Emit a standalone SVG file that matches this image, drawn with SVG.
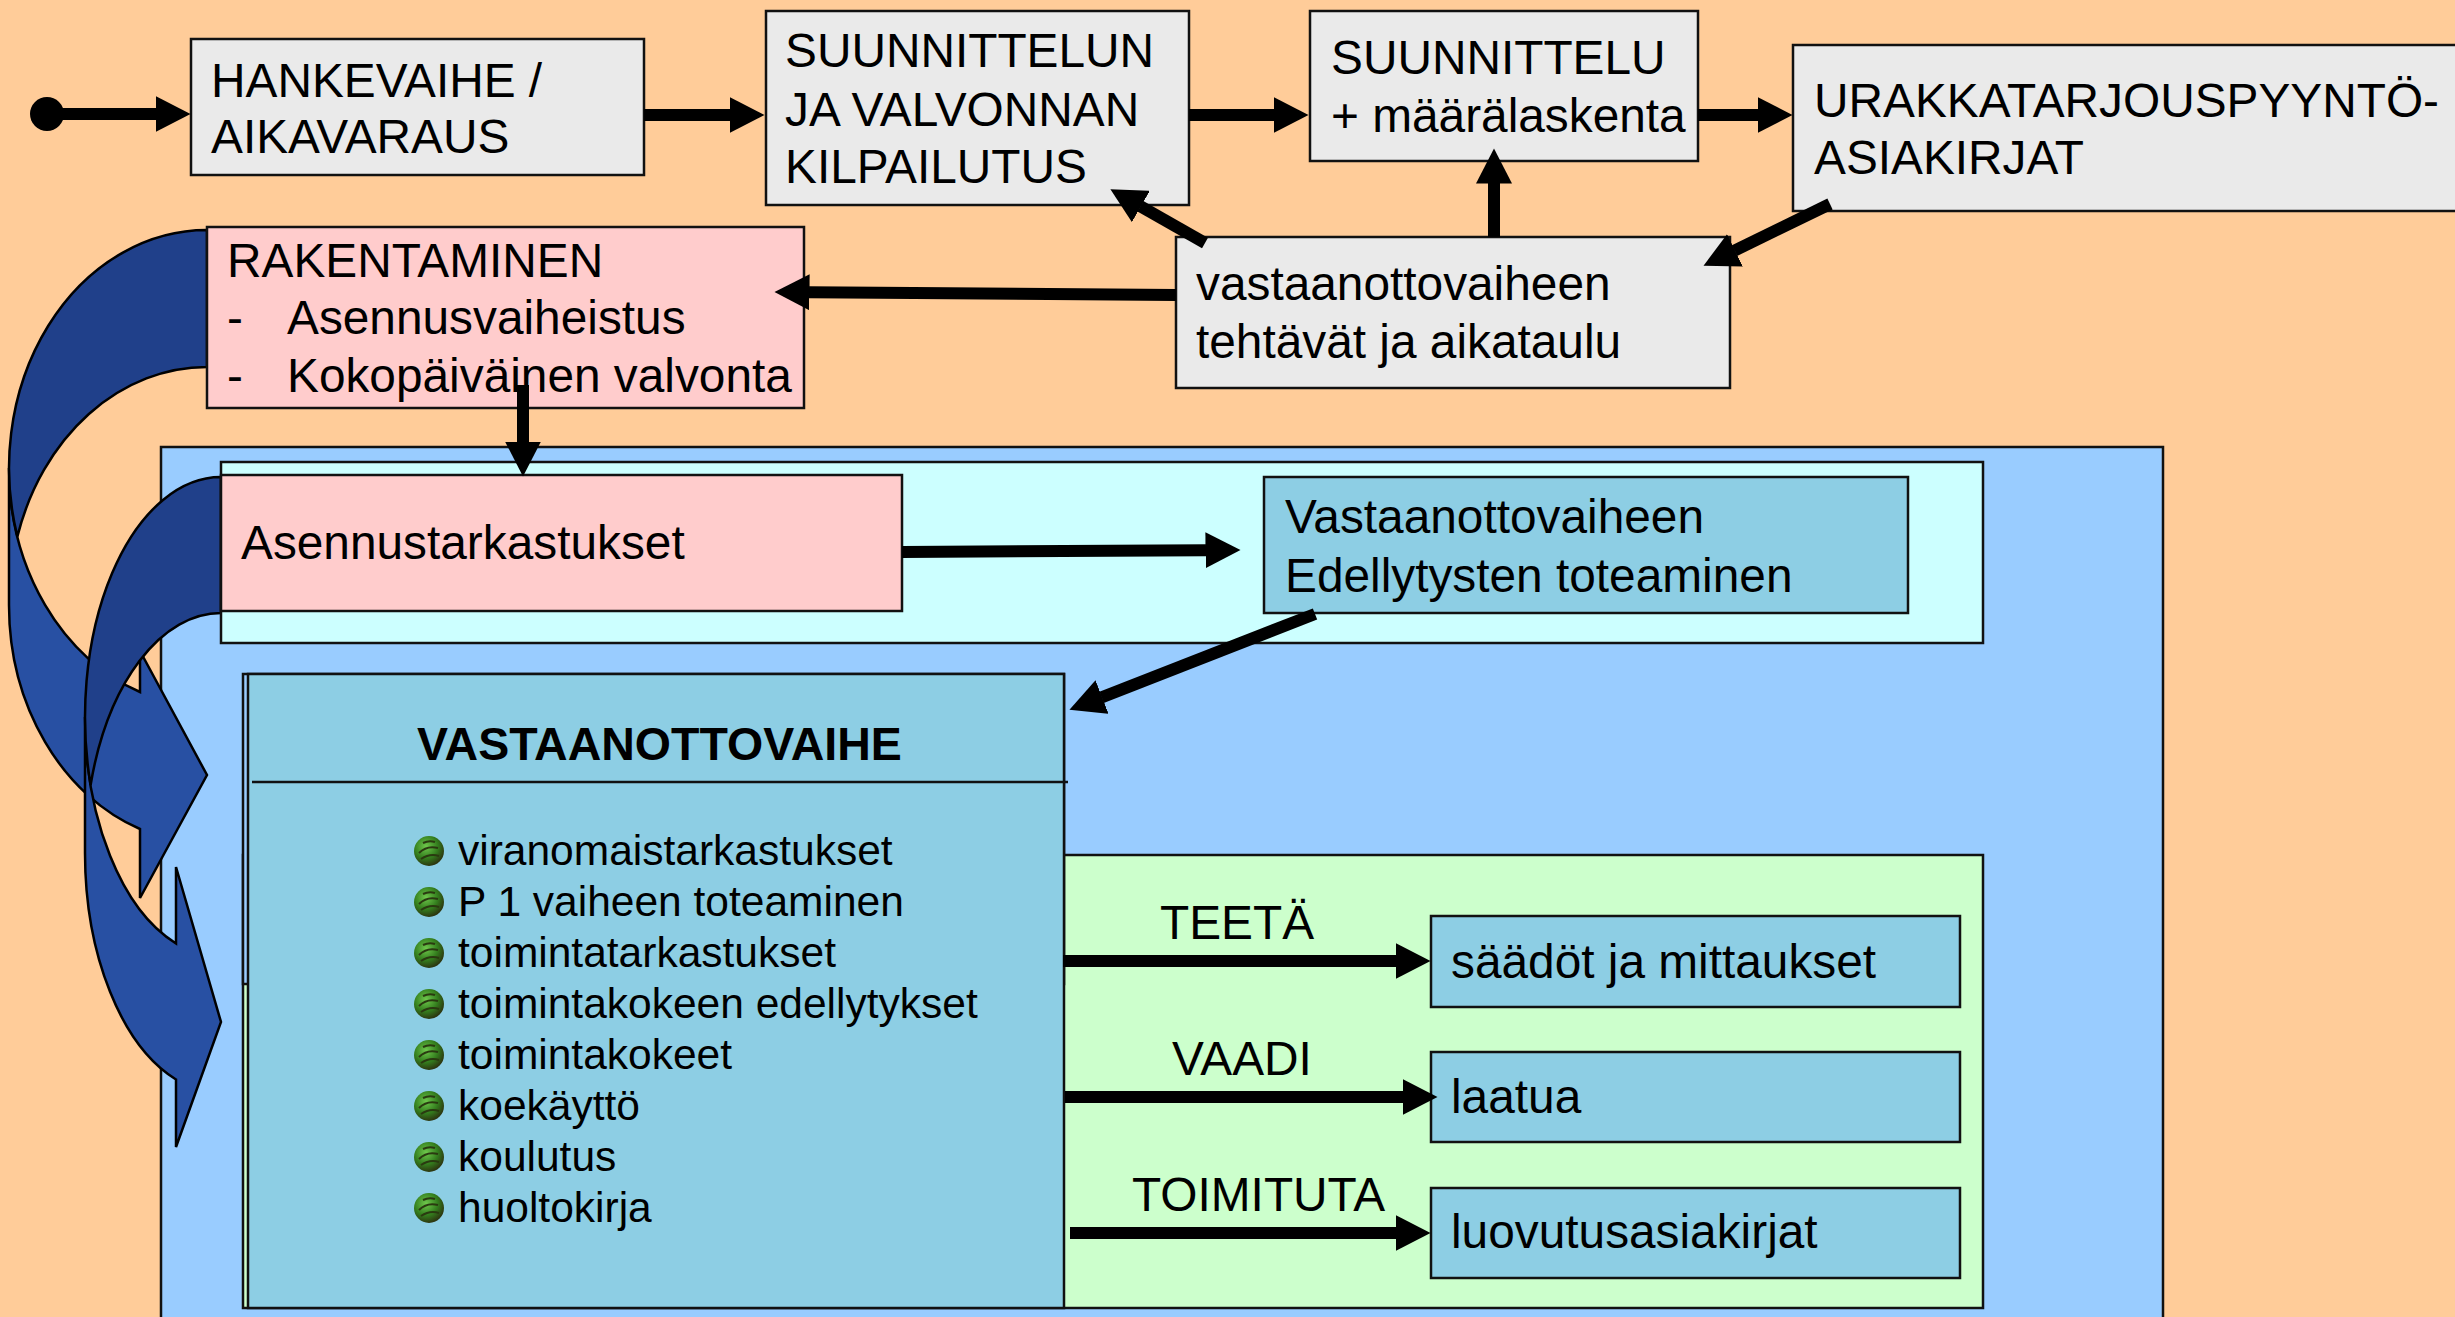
<svg xmlns="http://www.w3.org/2000/svg" xmlns:xlink="http://www.w3.org/1999/xlink" width="2455" height="1317" viewBox="0 0 2455 1317">
<style>
.bx{stroke:#111;stroke-width:2.5}
.grey{fill:#EAEAEA}
.pink{fill:#FFCCCC}
.mid{fill:#8DCEE4}
.t{font-family:"Liberation Sans",Arial,sans-serif;font-size:47.8px;fill:#000}
.b{font-family:"Liberation Sans",Arial,sans-serif;font-size:42.5px;fill:#000}
.hd{font-family:"Liberation Sans",Arial,sans-serif;font-size:46.5px;font-weight:bold;fill:#000}
.cn{stroke:#000;stroke-width:12;fill:none;marker-end:url(#ah)}
.front{fill:#2850A3;stroke:#000;stroke-width:2.5;stroke-linejoin:miter}
.back{fill:#20408A;stroke:#000;stroke-width:2.5}
</style>
<defs>
<marker id="ah" markerUnits="userSpaceOnUse" markerWidth="36" markerHeight="36" viewBox="0 0 36 36" refX="0.5" refY="18" orient="auto">
<path d="M0,0 L35,18 L0,36 Z" fill="#000"/>
</marker>
<radialGradient id="bg1" cx="0.4" cy="0.35" r="0.7">
<stop offset="0" stop-color="#6FC84C"/>
<stop offset="0.55" stop-color="#347F1E"/>
<stop offset="1" stop-color="#2B2A0E"/>
</radialGradient>
<g id="bul">
<circle cx="0" cy="0" r="15" fill="url(#bg1)"/>
<path d="M-10,2 Q-2,-6 9,-3 M-8,8 Q1,2 10,5 M-6,-8 Q0,-11 6,-9" stroke="#2A3A10" stroke-width="2" fill="none"/>
</g>
</defs>
<rect x="0" y="0" width="2455" height="1317" fill="#FFCC99"/>

<g id="outer-frame"><rect class="bx" x="161" y="447" width="2002" height="890" fill="#99CCFF"/></g>

<g id="curved-arrows">
<path class="front" d="M9,468 A198,238 0 0 0 140,692 L140,651 L207,775 L140,898 L140,829 A198,238 0 0 1 9,605 Z"/>
<path class="back" d="M207,367 A198,238 0 0 0 17.4,536.5 A198,238 0 0 1 207,230 Z"/>
<path class="front" d="M85,717 A136,240 0 0 0 176,943.5 L176,867 L221,1022 L176,1147 L176,1079.5 A136,240 0 0 1 85,853 Z"/>
<path class="back" d="M221,613 A136,240 0 0 0 90.6,785 A136,240 0 0 1 221,477 Z"/>
</g>

<g id="inspection-frame"><rect class="bx" x="221" y="462" width="1762" height="181" fill="#CCFFFF"/></g>

<g id="asennustarkastukset">
<rect class="bx pink" x="221" y="475" width="681" height="136"/>
<text class="t" x="241" y="559">Asennustarkastukset</text>
</g>

<g id="edellytykset">
<rect class="bx mid" x="1264" y="477" width="644" height="136"/>
<text class="t" x="1285" y="533">Vastaanottovaiheen</text>
<text class="t" x="1285" y="592">Edellytysten toteaminen</text>
</g>

<g id="action-frame"><rect class="bx" x="243" y="855" width="1740" height="453" fill="#CCFFCC"/></g>

<g id="vastaanottovaihe">
<rect class="bx" x="243" y="674" width="821" height="310" fill="#99CCFF"/>
<rect class="bx mid" x="248" y="674" width="816" height="634"/>
<line x1="252" y1="782" x2="1068" y2="782" stroke="#111" stroke-width="2.5"/>
<text class="hd" x="417" y="760">VASTAANOTTOVAIHE</text>
<use href="#bul" x="429" y="851"/>
<use href="#bul" x="429" y="902"/>
<use href="#bul" x="429" y="953"/>
<use href="#bul" x="429" y="1004"/>
<use href="#bul" x="429" y="1055"/>
<use href="#bul" x="429" y="1106"/>
<use href="#bul" x="429" y="1157"/>
<use href="#bul" x="429" y="1208"/>
<text class="b" x="458" y="865">viranomaistarkastukset</text>
<text class="b" x="458" y="916">P 1 vaiheen toteaminen</text>
<text class="b" x="458" y="967">toimintatarkastukset</text>
<text class="b" x="458" y="1018">toimintakokeen edellytykset</text>
<text class="b" x="458" y="1069">toimintakokeet</text>
<text class="b" x="458" y="1120">koekäyttö</text>
<text class="b" x="458" y="1171">koulutus</text>
<text class="b" x="458" y="1222">huoltokirja</text>
</g>

<g id="saadot">
<rect class="bx mid" x="1431" y="916" width="529" height="91"/>
<text class="t" x="1451" y="978">säädöt ja mittaukset</text>
</g>
<g id="laatua">
<rect class="bx mid" x="1431" y="1052" width="529" height="90"/>
<text class="t" x="1451" y="1113">laatua</text>
</g>
<g id="luovutusasiakirjat">
<rect class="bx mid" x="1431" y="1188" width="529" height="90"/>
<text class="t" x="1451" y="1248">luovutusasiakirjat</text>
</g>

<g id="hankevaihe">
<rect class="bx grey" x="191" y="39" width="453" height="136"/>
<text class="t" x="211" y="97">HANKEVAIHE /</text>
<text class="t" x="211" y="153">AIKAVARAUS</text>
</g>
<g id="kilpailutus">
<rect class="bx grey" x="766" y="11" width="423" height="194"/>
<text class="t" x="785" y="67">SUUNNITTELUN</text>
<text class="t" x="785" y="126">JA VALVONNAN</text>
<text class="t" x="785" y="183">KILPAILUTUS</text>
</g>
<g id="suunnittelu">
<rect class="bx grey" x="1310" y="11" width="388" height="150"/>
<text class="t" x="1331" y="74">SUUNNITTELU</text>
<text class="t" x="1331" y="132">+ määrälaskenta</text>
</g>
<g id="urakka">
<rect class="bx grey" x="1793" y="45" width="700" height="166"/>
<text class="t" x="1814" y="117">URAKKATARJOUSPYYNTÖ-</text>
<text class="t" x="1814" y="174">ASIAKIRJAT</text>
</g>
<g id="vastaanotto-tehtavat">
<rect class="bx grey" x="1176" y="237" width="554" height="151"/>
<text class="t" x="1196" y="300">vastaanottovaiheen</text>
<text class="t" x="1196" y="358">tehtävät ja aikataulu</text>
</g>
<g id="rakentaminen">
<rect class="bx pink" x="207" y="227" width="597" height="181"/>
<text class="t" x="227" y="277">RAKENTAMINEN</text>
<text class="t" x="227" y="334">-</text>
<text class="t" x="287" y="334">Asennusvaiheistus</text>
<text class="t" x="227" y="392">-</text>
<text class="t" x="287" y="392">Kokopäiväinen valvonta</text>
</g>

<g id="connectors">
<circle cx="47" cy="114" r="17" fill="#000"/>
<line class="cn" x1="47" y1="114" x2="156" y2="114"/>
<line class="cn" x1="644" y1="115" x2="730" y2="115"/>
<line class="cn" x1="1189" y1="115" x2="1274" y2="115"/>
<line class="cn" x1="1698" y1="115" x2="1758" y2="115"/>
<line class="cn" x1="1494" y1="237" x2="1494" y2="183"/>
<line class="cn" x1="1205" y1="243" x2="1140.4" y2="206.3"/>
<line class="cn" x1="1830" y1="204" x2="1734.5" y2="250.6"/>
<line class="cn" x1="1176" y1="295" x2="809" y2="292.3"/>
<line class="cn" x1="523" y1="385" x2="523" y2="442"/>
<line class="cn" x1="902" y1="552" x2="1206" y2="550.2"/>
<line class="cn" x1="1315" y1="614" x2="1101.6" y2="697.3"/>
<line class="cn" x1="1063" y1="961" x2="1396" y2="961"/>
<line class="cn" x1="1065" y1="1097" x2="1403" y2="1097"/>
<line class="cn" x1="1070" y1="1233" x2="1396" y2="1233"/>
<text class="t" x="1160" y="939">TEETÄ</text>
<text class="t" x="1172" y="1075">VAADI</text>
<text class="t" x="1132" y="1211">TOIMITUTA</text>
</g>
</svg>
